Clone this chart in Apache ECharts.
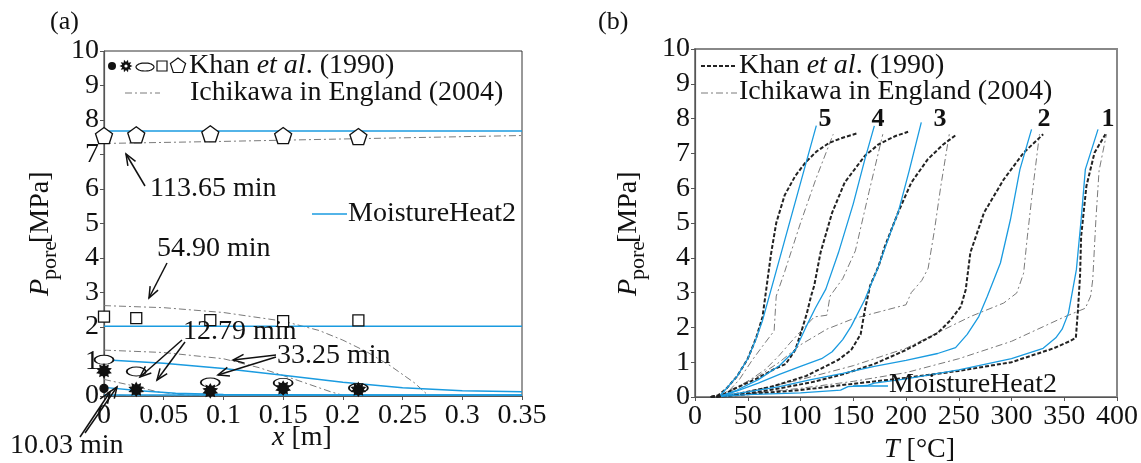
<!DOCTYPE html>
<html><head><meta charset="utf-8">
<script src="https://cdn.jsdelivr.net/npm/echarts@6/dist/echarts.min.js"></script>
<style>html,body{margin:0;padding:0;background:#fff}#c{width:1141px;height:463px}</style>
</head><body><div id="c"></div>
<script>
// ---------- Panel (a): pressure profiles along x ----------
const aXTicks = [0, 0.05, 0.1, 0.15, 0.2, 0.25, 0.3, 0.35];
const khanAX = [0, 0.027, 0.089, 0.15, 0.213];
const khanA_1003 = [0.22, 0.17, 0.13, 0.18, 0.16];
const khanA_1279 = [0.73, 0.19, 0.15, 0.23, 0.19];
const khanA_3325 = [1.05, 0.71, 0.39, 0.38, 0.23];
const khanA_5490 = [2.3, 2.26, 2.2, 2.17, 2.19];
const khanA_11365 = [7.55, 7.57, 7.6, 7.55, 7.52];

const ichA_11365 = [[0, 7.32], [0.1, 7.38], [0.2, 7.45], [0.35, 7.55]];
const ichA_5490 = [[0, 2.62], [0.05, 2.56], [0.1, 2.42], [0.15, 2.17], [0.18, 1.9], [0.2, 1.62], [0.22, 1.28], [0.24, 0.87], [0.26, 0.38], [0.272, 0]];
const ichA_3325 = [[0, 1.33], [0.05, 1.26], [0.1, 1.08], [0.13, 0.82], [0.16, 0.48], [0.19, 0.12], [0.2, 0.02]];
const ichA_1279 = [[0, 0.48], [0.02, 0.33], [0.045, 0.12], [0.07, 0.02], [0.1, 0]];
const ichA_1003 = [[0, 0.05], [0.02, 0.01], [0.06, 0]];

const mhA_11365 = [[0, 7.68], [0.35, 7.68]];
const mhA_5490 = [[0, 2.02], [0.35, 2.02]];
const mhA_3325 = [[0, 1.05], [0.05, 0.95], [0.1, 0.8], [0.15, 0.6], [0.2, 0.4], [0.25, 0.24], [0.3, 0.15], [0.35, 0.12]];
const mhA_1279 = [[0, 0.25], [0.03, 0.15], [0.06, 0.08], [0.1, 0.04], [0.2, 0.03], [0.35, 0.03]];
const mhA_1003 = [[0, 0.03], [0.35, 0.03]];

// ---------- Panel (b): pressure vs temperature ----------
const bXTicks = [0, 50, 100, 150, 200, 250, 300, 350, 400];
const khanB5 = [[15,0],[22,0.05],[30,0.25],[40,0.6],[50,1.1],[58,1.7],[64,2.3],[68,3.2],[72,4.1],[77,5.0],[85,5.8],[95,6.35],[105,6.75],[115,7.05],[127,7.3],[140,7.45],[153,7.57]];
const ichB5 = [[20,0],[30,0.1],[42,0.5],[54,1.05],[65,1.5],[75,1.9],[77,2.9],[85,3.6],[100,5.0],[115,6.3],[131,7.55]];
const mhB5 = [[24,0.05],[30,0.25],[40,0.6],[50,1.1],[57,1.6],[64,2.2],[75,3.4],[85,4.5],[95,5.6],[105,6.7],[115,7.8]];

const khanB4 = [[15,0],[25,0.05],[42,0.3],[60,0.55],[75,0.8],[86,0.95],[95,1.35],[101,1.9],[106,2.4],[110,2.9],[113,3.2],[119,4.15],[130,5.3],[142,6.17],[161,6.93],[174,7.26],[190,7.5],[202,7.62]];
const ichB4 = [[20,0],[30,0.1],[42,0.3],[55,0.55],[67,0.8],[80,1.2],[90,1.55],[99,1.85],[113,2.3],[125,2.35],[128,2.9],[140,3.4],[152,4.2],[165,5.9],[178,7.55]];
const mhB4 = [[25,0.03],[40,0.2],[60,0.5],[80,0.9],[95,1.35],[105,2.0],[114,2.55],[124,3.1],[136,4.15],[150,5.55],[161,6.83],[170,7.79]];

const khanB3 = [[15,0],[25,0.03],[42,0.1],[73,0.3],[105,0.6],[125,0.9],[136,1.07],[148,1.35],[157,1.8],[161,2.5],[166,3.2],[174,3.76],[180,4.33],[192.5,5.3],[205,6.16],[220.6,6.83],[235,7.25],[247,7.52]];
const ichB3 = [[20,0],[40,0.3],[60,0.6],[80,1.0],[100,1.5],[125,1.95],[150,2.25],[175,2.45],[200,2.65],[205,3.0],[215,3.35],[221,3.7],[227,4.8],[233,6.06],[241,7.55]];
const mhB3 = [[25,0.03],[42,0.2],[60,0.4],[80,0.65],[100,0.88],[120,1.1],[130,1.3],[140,1.65],[148,2.03],[161,2.8],[174,3.76],[185,4.7],[192.5,5.3],[203,6.5],[214.5,7.89]];

const khanB2 = [[20,0],[50,0.1],[80,0.25],[110,0.42],[140,0.65],[170,0.95],[200,1.35],[230,1.84],[242,2.2],[252,2.6],[256.6,3.08],[261,4.15],[274,5.3],[292.6,6.25],[311.5,7.02],[330,7.55]];
const ichB2 = [[20,0],[50,0.15],[100,0.5],[150,0.9],[200,1.4],[261,2.31],[292.6,2.7],[305,2.99],[311.5,3.56],[315,4.6],[319,5.68],[326.5,7.55]];
const mhB2 = [[25,0.03],[50,0.15],[80,0.3],[110,0.5],[140,0.68],[170,0.88],[200,1.05],[230,1.25],[247,1.42],[258,1.8],[269,2.31],[277,2.89],[289.5,3.85],[299,5.1],[308,6.54],[319,7.69]];

const khanB1 = [[15,0],[50,0.08],[100,0.2],[150,0.38],[200,0.55],[250,0.75],[300,1.0],[340,1.4],[355,1.6],[361,1.7],[363,2.5],[365,3.5],[366,4.62],[371,6.06],[378.7,7.02],[389,7.55]];
const ichB1 = [[20,0],[100,0.25],[150,0.45],[200,0.7],[250,1.1],[300,1.6],[350,2.3],[370,2.55],[375,2.9],[377,3.37],[380,5.1],[383,6.5],[390,7.55]];
const mhB1 = [[25,0.02],[50,0.07],[100,0.12],[138,0.2],[145,0.3],[163,0.33],[170,0.4],[200,0.52],[250,0.78],[300,1.1],[330,1.4],[342,1.7],[348,1.95],[354,2.41],[361.5,3.66],[366,5.1],[370,6.54],[382,7.69]];

const curveLabels = ['5', '4', '3', '2', '1'];

// ---------- styling ----------
const FONT = '"Liberation Serif", "DejaVu Serif", serif';
const BLUE = '#1a9be0';
const GRAY = '#7a7a7a';
const DASHDOT = [7, 3, 2, 3];

function starPath(n, ro, ri) {
  let d = '';
  for (let k = 0; k < 2 * n; k++) {
    const r = k % 2 ? ri : ro;
    const a = Math.PI * k / n - Math.PI / 2;
    d += (k ? 'L' : 'M') + (r * Math.cos(a)).toFixed(2) + ',' + (r * Math.sin(a)).toFixed(2);
  }
  return d + 'Z';
}
const STAR = 'path://' + starPath(10, 10, 6.5);
const PENT = 'path://M0,-10L9.51,-3.09L5.88,8.09L-5.88,8.09L-9.51,-3.09Z';

function zipA(vals) { return khanAX.map((x, i) => [x, vals[i]]); }

const series = [];
function mline(name, data, xi, yi, color, width, type) {
  series.push({ name, type: 'line', xAxisIndex: xi, yAxisIndex: yi, data, showSymbol: false, symbol: 'none',
    lineStyle: { color, width, type }, silent: true, z: 3, animation: false });
}
function scat(name, vals, symbol, size, fill, z) {
  series.push({ name, type: 'scatter', xAxisIndex: 0, yAxisIndex: 0, data: zipA(vals), symbol, symbolSize: size,
    itemStyle: { color: fill, borderColor: '#111', borderWidth: 1.3, opacity: 1 }, z: z || 5, animation: false });
}
// (a)
[ichA_11365, ichA_5490, ichA_3325, ichA_1279, ichA_1003].forEach((d, i) => mline('ichA' + i, d, 0, 0, GRAY, 1, DASHDOT));
[mhA_11365, mhA_5490, mhA_3325, mhA_1279, mhA_1003].forEach((d, i) => mline('mhA' + i, d, 0, 0, BLUE, 1.5, 'solid'));
scat('k11365', khanA_11365, PENT, [17, 16], '#fff');
scat('k5490', khanA_5490, 'rect', 11, '#fff');
scat('k3325', khanA_3325, 'circle', [19, 9], '#fff', 5);
scat('k1279', khanA_1279, STAR, 13, '#111', 6);
scat('k1003', khanA_1003, 'circle', 8, '#111', 7);
// (b)
[ichB5, ichB4, ichB3, ichB2, ichB1].forEach((d, i) => mline('ichB' + i, d, 1, 1, GRAY, 1, DASHDOT));
[khanB5, khanB4, khanB3, khanB2, khanB1].forEach((d, i) => mline('khanB' + i, d, 1, 1, '#222', 2, [4, 2]));
[mhB5, mhB4, mhB3, mhB2, mhB1].forEach((d, i) => mline('mhB' + i, d, 1, 1, BLUE, 1.3, 'solid'));

function axisCommon(extra) {
  return Object.assign({
    type: 'value',
    axisLine: { show: true, onZero: false, lineStyle: { color: '#555', width: 1.2 } },
    axisTick: { show: true, inside: false, length: 4, lineStyle: { color: '#555' } },
    axisLabel: { color: '#111', fontSize: 28, fontFamily: FONT, margin: 5 },
    splitLine: { show: false }
  }, extra);
}

// ---------- graphic: legends, labels, arrows ----------
const G = [];
function txt(x, y, text, size, opts) {
  opts = opts || {};
  G.push({ type: 'text', x, y, z: 50, rotation: opts.rot || 0,
    style: { text, fill: '#111', font: (opts.style || '') + ' ' + (opts.weight || '') + ' ' + size + 'px ' + FONT,
      textAlign: opts.align || 'left', textVerticalAlign: opts.valign || 'middle',
      align: opts.align || 'left', verticalAlign: opts.valign || 'middle', rich: opts.rich } });
}
function seg(x1, y1, x2, y2, color, w, dash) {
  G.push({ type: 'line', z: 50, shape: { x1, y1, x2, y2 }, style: { stroke: color, lineWidth: w, lineDash: dash || null } });
}
function arrow(x1, y1, x2, y2) {
  const a = Math.atan2(y2 - y1, x2 - x1), L = 12, w = 0.38;
  seg(x1, y1, x2, y2, '#111', 1.5);
  G.push({ type: 'polyline', z: 50, shape: { points: [[x2 - L * Math.cos(a - w), y2 - L * Math.sin(a - w)], [x2, y2], [x2 - L * Math.cos(a + w), y2 - L * Math.sin(a + w)]] },
    style: { stroke: '#111', lineWidth: 1.5, fill: null } });
}
const richKhan = {
  n: { fontFamily: FONT, fontSize: 28, color: '#111' },
  i: { fontFamily: FONT, fontSize: 28, color: '#111', fontStyle: 'italic' }
};
// panel labels
txt(50, 22, '(a)', 26);
txt(598, 22, '(b)', 26);
// legend (a)
G.push({ type: 'circle', z: 50, shape: { cx: 112, cy: 66, r: 4 }, style: { fill: '#111' } });
G.push({ type: 'polygon', z: 50, shape: { points: (function(){ const p=[]; for(let k=0;k<20;k++){const r=k%2?4:6.5;const a=Math.PI*k/10;p.push([126+r*Math.cos(a),66+r*Math.sin(a)]);} return p; })() }, style: { fill: '#111' } });
G.push({ type: 'circle', z: 51, shape: { cx: 126, cy: 66, r: 1.6 }, style: { fill: '#fff' } });
G.push({ type: 'polygon', z: 50, shape: { points: (function(){ const p=[]; for(let k=0;k<40;k++){const a=2*Math.PI*k/40;p.push([145+9*Math.cos(a),67+4*Math.sin(a)]);} return p; })() }, style: { fill: '#fff', stroke: '#111', lineWidth: 1.2 } });
G.push({ type: 'rect', z: 50, shape: { x: 157, y: 61, width: 10, height: 10 }, style: { fill: '#fff', stroke: '#111', lineWidth: 1.2 } });
G.push({ type: 'polygon', z: 50, shape: { points: [[178,58],[185.6,63.5],[182.7,72.5],[173.3,72.5],[170.4,63.5]] }, style: { fill: '#fff', stroke: '#111', lineWidth: 1.2 } });
txt(189, 66, '{n|Khan }{i|et al}{n|. (1990)}', 28, { rich: richKhan });
seg(125, 93, 160, 93, GRAY, 1, DASHDOT);
txt(190, 93, 'Ichikawa in England (2004)', 28);
seg(312, 214, 347, 214, BLUE, 1.5);
txt(348, 214, 'MoistureHeat2', 28);
// legend (b)
seg(701, 66, 737, 66, '#222', 2, [4, 2]);
txt(739, 66, '{n|Khan }{i|et al}{n|. (1990)}', 28, { rich: richKhan });
seg(701, 93, 737, 93, GRAY, 1, DASHDOT);
txt(739, 92, 'Ichikawa in England (2004)', 28);
seg(853, 386, 888, 386, BLUE, 1.5);
txt(889, 385, 'MoistureHeat2', 28);
// curve numbers (b)
[[825, 119], [878, 119], [940, 119], [1044, 119], [1108, 119]].forEach((p, i) => txt(p[0], p[1], curveLabels[i], 26, { align: 'center', weight: 'bold' }));
// annotations (a)
txt(150, 189, '113.65 min', 28); arrow(145, 186, 126, 154);
txt(157, 249, '54.90 min', 28); arrow(167, 263, 149, 298);
txt(183, 332, '12.79 min', 28); arrow(182, 340, 140, 377); arrow(185, 342, 157, 380);
txt(277, 356, '33.25 min', 28); arrow(276, 355, 233, 360); arrow(276, 357, 218, 375);
txt(10, 446, '10.03 min', 28); arrow(80, 437, 110, 392); arrow(85, 433, 117, 387);
// axis titles
txt(272, 438, '{i|x}{n| [m]}', 28, { rich: richKhan });
txt(884, 450, '{i|T}{n| [°C]}', 28, { rich: richKhan });
function ylab(bx, by) {
  G.push({ type: 'group', x: bx, y: by, rotation: Math.PI / 2, z: 50, children: [
    { type: 'text', x: 0, y: 0, style: { text: 'P', font: 'italic 28px ' + FONT, fill: '#111', textVerticalAlign: 'bottom', verticalAlign: 'bottom' } },
    { type: 'text', x: 16, y: 6, style: { text: 'pore', font: '22px ' + FONT, fill: '#111', textVerticalAlign: 'bottom', verticalAlign: 'bottom' } },
    { type: 'text', x: 53, y: 0, style: { text: '[MPa]', font: '28px ' + FONT, fill: '#111', textVerticalAlign: 'bottom', verticalAlign: 'bottom' } }
  ] });
}
ylab(55, 296);
ylab(643, 296);

const option = {
  animation: false,
  backgroundColor: '#fff',
  grid: [
    { left: 104, top: 51, width: 418, height: 345, show: true, borderColor: '#333', borderWidth: 1, backgroundColor: 'transparent' },
    { left: 695, top: 49, width: 426, height: 348, show: true, borderColor: '#888', borderWidth: 2, backgroundColor: 'transparent' }
  ],
  xAxis: [
    axisCommon({ gridIndex: 0, min: aXTicks[0], max: aXTicks[aXTicks.length - 1], interval: 0.05,
      axisLabel: { color: '#111', fontSize: 28, fontFamily: FONT, margin: 6, formatter: v => String(+v.toFixed(2)) } }),
    axisCommon({ gridIndex: 1, min: bXTicks[0], max: bXTicks[bXTicks.length - 1], interval: 50,
      axisLabel: { color: '#111', fontSize: 28, fontFamily: FONT, margin: 6 } })
  ],
  yAxis: [
    axisCommon({ gridIndex: 0, min: 0, max: 10, interval: 1 }),
    axisCommon({ gridIndex: 1, min: 0, max: 10, interval: 1 })
  ],
  series,
  graphic: G
};
const chart = echarts.init(document.getElementById('c'), null, { renderer: 'canvas' });
chart.setOption(option);
</script></body></html>
